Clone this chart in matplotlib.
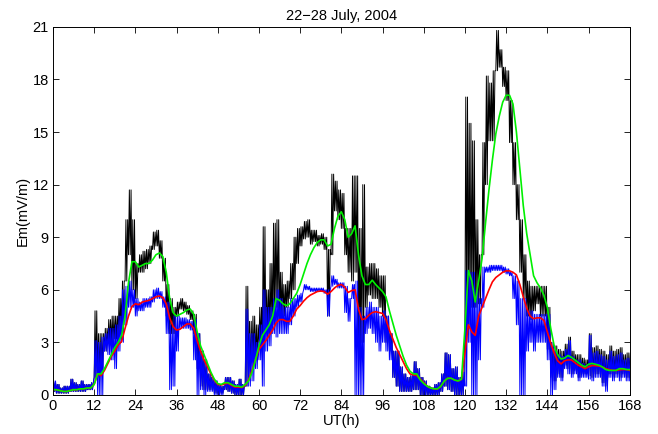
import numpy as np
import matplotlib
matplotlib.use("Agg")
import matplotlib.pyplot as plt

plt.rcParams["font.family"] = ["Liberation Sans", "DejaVu Sans"]

# ── data (one value per hour, 0..168 UT) ──────────────────────────────────
hours = np.arange(0, 169)

# smooth curves
green = [
    0.3, 0.3, 0.25, 0.2, 0.2, 0.25, 0.3, 0.3, 0.35, 0.35, 0.4, 0.4,
    0.6, 1.2, 1.2, 1.5, 1.9, 2.3, 2.7, 3.0, 3.4, 4.5, 6.4, 7.6,
    7.6, 7.3, 7.4, 7.5, 7.5, 7.7, 8.0, 8.1, 7.9, 7.0, 5.5, 4.7,
    4.5, 4.6, 4.7, 4.85, 4.9, 4.6, 3.6, 2.8, 2.3, 1.8, 1.3, 0.9,
    0.65, 0.6, 0.7, 0.7, 0.6, 0.5, 0.5, 0.45, 0.6, 0.8, 1.3, 2.0,
    2.8, 3.4, 3.7, 4.0, 4.5, 5.5, 5.4, 5.2, 5.1, 5.2, 5.5, 5.8,
    6.3, 6.9, 7.5, 8.0, 8.4, 8.7, 8.85, 8.85, 8.5, 8.6, 9.5, 10.2,
    10.45, 10.0, 9.0, 9.2, 9.65, 8.0, 6.8, 6.3, 6.3, 6.55, 6.3, 6.1,
    5.9, 5.6, 4.8, 4.1, 3.4, 2.8, 2.2, 1.7, 1.35, 1.2, 1.2, 0.85,
    0.65, 0.5, 0.4, 0.35, 0.35, 0.5, 0.8, 0.95, 0.95, 0.85, 0.8, 0.9,
    3.8, 7.1, 6.5, 5.3, 6.5, 7.8, 9.8, 11.7, 13.4, 14.9, 15.9, 16.7,
    17.1, 17.1, 16.6, 15.0, 12.9, 10.8, 9.2, 8.0, 6.8, 6.4, 6.1, 5.7,
    5.0, 3.8, 2.8, 2.3, 2.05, 2.1, 2.25, 2.15, 2.0, 1.85, 1.7, 1.6,
    1.75, 1.8, 1.75, 1.7, 1.6, 1.45, 1.4, 1.4, 1.4, 1.5, 1.5, 1.45,
    1.45,
]
red = [
    0.3, 0.3, 0.25, 0.2, 0.2, 0.25, 0.3, 0.3, 0.35, 0.35, 0.4, 0.4,
    0.6, 1.2, 1.1, 1.4, 1.8, 2.2, 2.5, 2.85, 3.05, 3.8, 4.5, 5.05,
    5.2, 5.15, 5.3, 5.35, 5.4, 5.5, 5.6, 5.65, 5.55, 5.2, 4.4, 3.9,
    3.7, 3.75, 3.9, 4.05, 4.05, 3.8, 3.1, 2.5, 2.0, 1.6, 1.2, 0.85,
    0.6, 0.57, 0.63, 0.67, 0.55, 0.45, 0.45, 0.42, 0.55, 0.85, 1.4, 2.0,
    2.6, 2.85, 3.1, 3.4, 3.7, 4.1, 4.3, 4.3, 4.2, 4.2, 4.5, 4.9,
    5.1, 5.35, 5.55, 5.7, 5.8, 5.9, 5.93, 5.9, 5.75, 5.9, 6.1, 6.25,
    6.3, 6.15, 5.85, 5.95, 6.0, 4.9, 4.3, 4.35, 4.55, 4.7, 4.75, 4.7,
    4.65, 4.3, 3.7, 3.2, 2.7, 2.3, 1.9, 1.5, 1.2, 1.15, 1.1, 0.9,
    0.7, 0.5, 0.4, 0.35, 0.33, 0.5, 0.8, 0.95, 0.95, 0.85, 0.8, 0.9,
    2.4, 4.0, 3.6, 3.4, 4.5, 5.0, 5.5, 6.0, 6.45, 6.7, 6.85, 7.0,
    7.08, 7.08, 7.0, 6.85, 6.3, 5.6, 4.95, 4.5, 4.35, 4.4, 4.4, 4.25,
    3.6, 2.95, 2.4, 1.95, 1.77, 1.95, 2.0, 2.0, 1.85, 1.7, 1.6, 1.5,
    1.6, 1.68, 1.67, 1.65, 1.6, 1.5, 1.45, 1.4, 1.4, 1.43, 1.45, 1.45,
    1.4,
]

# noisy curves: lower / upper envelope of the spread within each hour
black_lo = [
    0.2, 0.1, 0.1, 0.1, 0.1, 0.2, 0.2, 0.2, 0.2, 0.2, 0.3, 0.3,
    1.0, 1.0, 1.5, 2.5, 3.0, 3.0, 3.2, 3.5, 4.0, 6.5, 8.0, 6.0,
    5.5, 7.0, 7.0, 7.2, 7.5, 8.3, 8.5, 7.8, 6.5, 4.5, 3.5, 3.5,
    4.5, 4.9, 4.8, 4.6, 4.3, 3.5, 1.5, 0.5, 0.3, 0.3, 0.3, 0.1,
    0.1, 0.1, 0.3, 0.2, 0.1, 0.0, 0.0, 0.0, 0.5, 1.0, 2.0, 2.0,
    3.0, 3.0, 3.5, 3.5, 4.0, 5.0, 4.5, 4.5, 5.0, 5.5, 6.0, 7.5,
    8.5, 8.9, 9.0, 8.6, 8.75, 8.5, 8.6, 8.3, 4.5, 8.0, 10.5, 10.0,
    9.5, 8.0, 7.0, 6.5, 7.0, 2.0, 3.0, 5.0, 5.7, 5.5, 5.5, 5.0,
    4.5, 3.0, 2.5, 1.0, 0.5, 0.2, 0.2, 0.2, 0.2, 0.3, 0.3, 0.0,
    0.0, 0.0, 0.0, 0.0, 0.0, 0.2, 0.5, 0.3, 0.2, 0.0, 0.0, 0.0,
    4.0, 4.0, 5.0, 5.0, 5.2, 8.0, 12.0, 14.5, 14.5, 18.5, 18.7, 17.6,
    16.8, 14.4, 12.0, 10.0, 7.0, 5.5, 4.5, 4.3, 4.8, 5.2, 4.5, 4.5,
    2.6, 1.0, 0.8, 1.2, 1.0, 1.7, 1.5, 1.2, 1.4, 1.0, 1.2, 1.2,
    1.1, 1.0, 1.2, 1.2, 0.7, 0.5, 1.2, 1.0, 1.2, 1.0, 1.2, 1.0,
    1.0,
]
black_hi = [
    0.7, 0.6, 0.4, 0.5, 0.5, 0.9, 0.7, 0.6, 0.8, 0.6, 0.6, 0.7,
    4.8, 3.5, 3.5, 3.8, 4.3, 4.5, 4.5, 5.5, 6.5, 10.0, 11.7, 10.0,
    7.5, 8.0, 8.2, 8.3, 8.5, 9.3, 9.4, 8.8, 7.8, 6.3, 5.5, 5.0,
    5.3, 5.5, 5.3, 5.1, 4.8, 4.6, 3.5, 2.5, 2.0, 1.2, 1.0, 0.8,
    0.6, 0.5, 1.0, 1.0, 0.8, 0.6, 0.9, 0.6, 6.2, 4.2, 4.5, 4.0,
    5.0, 9.6, 6.0, 7.5, 9.8, 10.0, 7.0, 6.3, 6.5, 7.5, 9.0, 9.5,
    9.6, 9.9, 10.0, 9.4, 9.4, 9.1, 9.2, 9.0, 8.3, 12.6, 12.2, 11.7,
    11.5, 9.5, 9.5, 12.5, 12.5, 9.5, 12.0, 7.3, 7.5, 7.5, 7.2, 6.8,
    6.8, 4.5, 3.5, 2.5, 2.5, 1.6, 1.2, 1.0, 1.1, 1.9, 1.5, 1.0,
    0.8, 0.5, 0.4, 0.6, 0.7, 1.2, 2.4, 2.3, 1.5, 1.6, 1.0, 1.3,
    17.0, 15.5, 14.5, 10.0, 8.0, 14.4, 18.2, 17.8, 18.5, 20.8, 19.7, 18.7,
    18.5, 16.8, 14.4, 12.0, 10.0, 8.0, 6.5, 6.2, 6.2, 6.2, 6.2, 6.2,
    5.0, 3.0, 2.8, 2.6, 2.5, 2.9, 3.3, 2.5, 2.3, 2.3, 2.1, 2.0,
    3.5, 2.7, 2.8, 2.6, 2.5, 2.3, 2.8, 2.5, 2.6, 2.7, 2.3, 2.4,
    2.6,
]
blue_lo = [
    0.2, 0.1, 0.1, 0.1, 0.1, 0.2, 0.2, 0.2, 0.2, 0.2, 0.3, 0.3,
    1.0, 0.0, 0.0, 2.5, 2.3, 2.0, 1.5, 2.5, 3.0, 4.0, 5.0, 5.0,
    4.5, 4.8, 4.8, 5.0, 5.0, 5.3, 5.5, 5.5, 5.0, 3.5, 0.3, 0.5,
    2.5, 3.8, 3.8, 3.8, 3.7, 2.0, 0.0, 0.3, 0.0, 0.2, 0.2, 0.0,
    0.0, 0.0, 0.3, 0.2, 0.1, 0.0, 0.0, 0.0, 0.5, 0.5, 0.8, 1.5,
    2.0, 0.5, 2.5, 2.8, 3.5, 3.3, 3.5, 3.5, 3.5, 4.0, 4.5, 5.0,
    5.3, 6.0, 6.0, 5.9, 5.9, 5.9, 5.9, 5.8, 4.5, 6.2, 6.3, 6.1,
    6.1, 4.7, 4.2, 5.5, 0.0, 0.0, 0.0, 3.5, 3.8, 3.5, 3.0, 2.5,
    3.0, 2.5, 2.0, 1.0, 0.5, 0.2, 0.2, 0.2, 0.2, 0.3, 0.3, 0.0,
    0.0, 0.0, 0.0, 0.0, 0.0, 0.2, 0.5, 0.3, 0.2, 0.0, 0.0, 0.0,
    0.5, 3.0, 0.0, 0.0, 2.0, 5.0, 7.0, 7.0, 7.1, 7.1, 7.1, 7.0,
    6.9, 6.8, 5.5, 4.0, 0.0, 0.0, 2.5, 3.0, 2.5, 3.0, 3.0, 3.0,
    2.0, 0.0, 0.3, 1.0, 0.8, 1.5, 1.2, 1.0, 1.2, 0.8, 1.0, 1.0,
    0.9, 0.8, 1.0, 1.0, 0.5, 0.2, 1.0, 0.8, 1.0, 0.8, 1.0, 0.8,
    0.8,
]
blue_hi = [
    0.8, 0.6, 0.4, 0.5, 0.5, 0.9, 0.7, 0.6, 0.8, 0.6, 0.6, 0.7,
    3.1, 3.0, 3.3, 3.5, 3.8, 3.8, 4.0, 4.5, 6.0, 6.2, 6.5, 6.0,
    5.5, 5.3, 5.5, 5.5, 5.6, 6.0, 6.1, 5.9, 5.6, 5.3, 4.0, 4.5,
    4.5, 4.4, 4.4, 4.3, 4.2, 4.3, 3.5, 2.5, 2.0, 1.2, 1.0, 0.8,
    0.6, 0.5, 1.0, 1.0, 0.8, 0.6, 0.9, 0.6, 4.9, 3.5, 3.5, 3.0,
    4.0, 6.0, 5.0, 5.0, 5.5, 6.0, 5.5, 5.0, 5.0, 5.5, 5.5, 5.7,
    5.8, 6.3, 6.2, 6.1, 6.1, 6.1, 6.1, 6.0, 6.0, 6.8, 6.6, 6.4,
    6.4, 6.2, 5.5, 6.3, 6.5, 5.0, 4.5, 5.0, 5.3, 5.0, 5.0, 4.5,
    4.8, 4.5, 3.5, 2.5, 2.5, 1.6, 1.2, 1.0, 1.1, 1.9, 1.5, 1.0,
    0.8, 0.5, 0.4, 0.6, 0.7, 1.2, 2.4, 2.3, 1.5, 1.6, 1.0, 1.3,
    7.1, 7.0, 7.0, 6.0, 5.5, 7.3, 7.3, 7.4, 7.4, 7.4, 7.4, 7.3,
    7.2, 7.0, 6.8, 6.5, 5.5, 5.5, 4.8, 4.8, 4.6, 4.6, 4.6, 4.6,
    4.6, 3.0, 2.5, 2.3, 2.2, 2.6, 3.1, 2.2, 2.0, 2.0, 1.8, 1.7,
    3.4, 2.4, 2.5, 2.3, 2.2, 2.0, 2.5, 2.2, 2.3, 2.4, 2.0, 2.1,
    2.3,
]

x_ticks = np.arange(0, 169, 12)
y_ticks = np.arange(0, 22, 3)


def zigzag(lo, hi):
    """Swing between the hourly low/high readings twice per hour so the
    trace reads as a dense noisy band, like the original 1-min data."""
    x = np.column_stack([hours, hours + 0.25, hours + 0.5, hours + 0.75]).ravel()
    y = np.column_stack([lo, hi, lo, hi]).ravel()
    return x, y


fig = plt.figure(figsize=(6.58, 4.34), dpi=100)
ax = fig.add_axes([0.0805, 0.090, 0.8765, 0.848])

bx, by = zigzag(black_lo, black_hi)
ux, uy = zigzag(blue_lo, blue_hi)
ax.plot(bx, by, color="black", lw=0.7)
ax.plot(ux, uy, color="blue", lw=0.7)
ax.plot(hours, red, color="red", lw=1.2)
ax.plot(hours, green, color="#00f000", lw=1.2)

ax.set_xlim(0, 168)
ax.set_ylim(0, 21)
ax.set_xticks(x_ticks)
ax.set_yticks(y_ticks)
ax.tick_params(direction="in", top=True, right=True, length=4,
               width=0.6, labelsize=10.5, pad=3)
for sp in ax.spines.values():
    sp.set_linewidth(0.7)

ax.set_xlabel("UT(h)", fontsize=10.5, labelpad=1)
ax.set_ylabel("Em(mV/m)", fontsize=10.5, labelpad=2)
ax.set_title("22\u221228 July, 2004", fontsize=10.5, pad=5)

fig.savefig("out.png", dpi=100)
